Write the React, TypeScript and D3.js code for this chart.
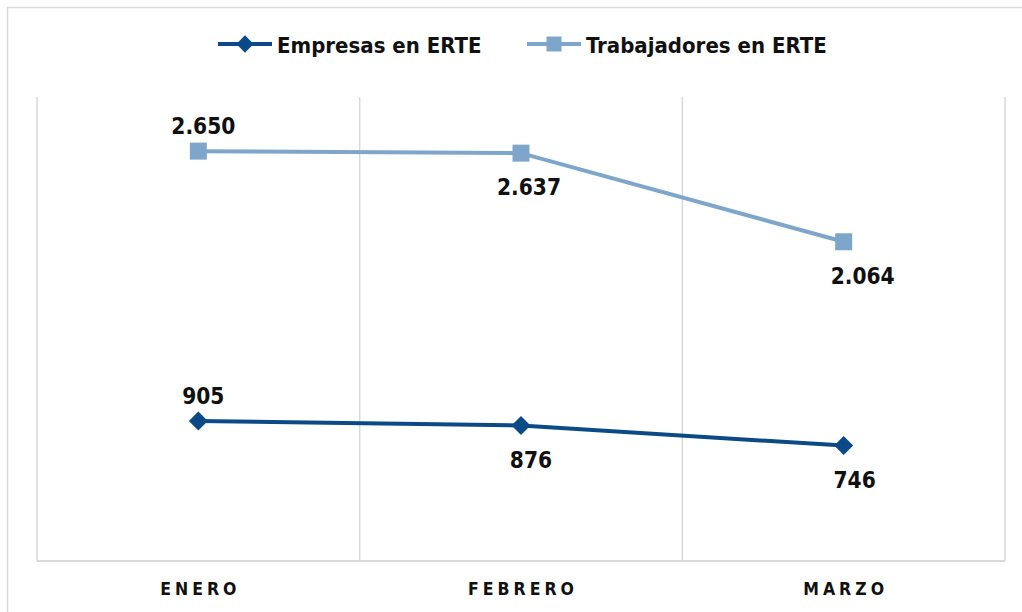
import * as d3 from "d3";
import { useEffect, useRef } from "react";

const months = ["ENERO", "FEBRERO", "MARZO"];
const empresas = [905, 876, 746];
const trabajadores = [2650, 2637, 2064];
// where each data label sits: above / below the point, and its nudge to the right
const empresasLabelPos = ["above", "below", "below"];
const trabajadoresLabelPos = ["above", "below", "below"];
const empresasLabelDx = [5, 10, 11];
const trabajadoresLabelDx = [5, 8, 19];

const DARK = "#0b4a86";
const LIGHT = "#7ea6ca";
const GRID = "#d9d9d9";
const FONT = "'DejaVu Sans Condensed', 'DejaVu Sans', sans-serif";

const fmt = (v: number) => d3.format(",")(v).replace(/,/g, ".");

export default function App() {
  const svgRef = useRef(null);

  useEffect(() => {
    const svg = d3.select(svgRef.current);
    svg.selectAll("*").remove();

    const left = 37, right = 1005, top = 97, bottom = 561;

    const x = d3.scaleBand().domain(months).range([left, right]);
    const y = d3.scaleLinear().domain([0, 3000]).range([bottom, top]);
    const cx = (m: string) => x(m)! + x.bandwidth() / 2;

    // outer frame
    svg.append("rect")
      .attr("x", 7.5).attr("y", 7.5)
      .attr("width", 1030).attr("height", 620)
      .attr("fill", "white").attr("stroke", GRID).attr("stroke-width", 1.5);

    // vertical gridlines on band edges
    const edges = months.map((m) => x(m)!).concat([right]);
    svg.selectAll(".grid")
      .data(edges)
      .enter()
      .append("line")
      .attr("class", "grid")
      .attr("x1", (d) => d).attr("x2", (d) => d)
      .attr("y1", top).attr("y2", bottom)
      .attr("stroke", GRID).attr("stroke-width", 1.5);

    // x axis line
    svg.append("line")
      .attr("x1", left).attr("x2", right)
      .attr("y1", bottom).attr("y2", bottom)
      .attr("stroke", GRID).attr("stroke-width", 2);

    svg.selectAll(".xlab")
      .data(months)
      .enter()
      .append("text")
      .attr("class", "xlab")
      .attr("x", (d) => cx(d) + 2)
      .attr("y", 595)
      .attr("text-anchor", "middle")
      .attr("font-family", FONT)
      .attr("font-weight", "bold")
      .attr("font-size", 17.5)
      .attr("letter-spacing", 4)
      .attr("fill", "#111")
      .text((d) => d);

    const line = d3.line<number>()
      .x((_, i) => cx(months[i]))
      .y((d) => y(d));

    const series = [
      { vals: trabajadores, color: LIGHT, shape: d3.symbolSquare, pos: trabajadoresLabelPos, dx: trabajadoresLabelDx },
      { vals: empresas, color: DARK, shape: d3.symbolDiamond2, pos: empresasLabelPos, dx: empresasLabelDx },
    ];

    series.forEach((s) => {
      svg.append("path")
        .attr("d", line(s.vals))
        .attr("fill", "none")
        .attr("stroke", s.color)
        .attr("stroke-width", 4);

      const size = s.shape === d3.symbolSquare ? 17 * 17 : 230;
      svg.selectAll(null)
        .data(s.vals)
        .enter()
        .append("path")
        .attr("d", d3.symbol().type(s.shape).size(size)())
        .attr("transform", (d, i) => `translate(${cx(months[i])},${y(d)})`)
        .attr("fill", s.color);

      svg.selectAll(null)
        .data(s.vals)
        .enter()
        .append("text")
        .attr("x", (d, i) => cx(months[i]) + s.dx[i])
        .attr("y", (d, i) => y(d) + (s.pos[i] === "above" ? -17 : 42))
        .attr("text-anchor", "middle")
        .attr("font-family", FONT)
        .attr("font-weight", "bold")
        .attr("font-size", 22.5)
        .attr("fill", "#111")
        .text((d) => fmt(d));
    });

    // legend
    const legend = [
      { name: "Empresas en ERTE", color: DARK, shape: d3.symbolDiamond2, x: 218 },
      { name: "Trabajadores en ERTE", color: LIGHT, shape: d3.symbolSquare, x: 527 },
    ];
    const lg = svg.selectAll(".lg").data(legend).enter().append("g")
      .attr("class", "lg")
      .attr("transform", (d) => `translate(${d.x},44)`);
    lg.append("line")
      .attr("x1", 0).attr("x2", 54)
      .attr("stroke", (d) => d.color).attr("stroke-width", 4);
    lg.append("path")
      .attr("d", (d) => d3.symbol().type(d.shape).size(d.shape === d3.symbolSquare ? 15 * 15 : 190)())
      .attr("transform", "translate(27,0)")
      .attr("fill", (d) => d.color);
    lg.append("text")
      .attr("x", 59).attr("y", 8.5)
      .attr("font-family", FONT)
      .attr("font-weight", "bold")
      .attr("font-size", 22)
      .attr("fill", "#111")
      .text((d) => d.name);
  }, []);

  return (
    <div style={{ position: "absolute", left: 0, top: 0 }}>
      <svg ref={svgRef} width={1022} height={612} style={{ display: "block" }}></svg>
    </div>
  );
}
